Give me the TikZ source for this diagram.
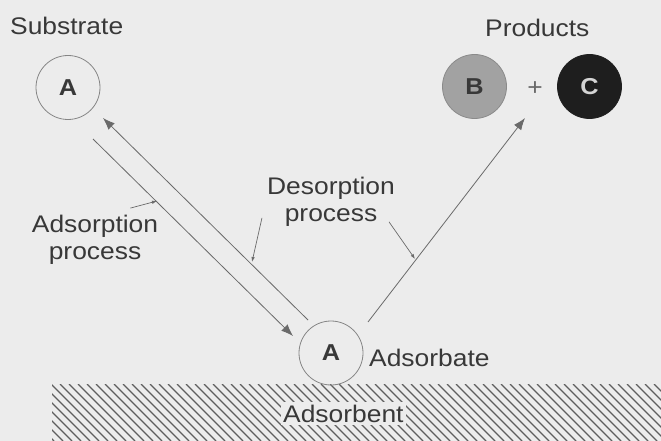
\documentclass[tikz,border=0pt]{standalone}
\usepackage{fontspec}
\setmainfont{Liberation Sans}[FakeStretch=1.1]
\usetikzlibrary{arrows.meta}
\definecolor{bggray}{HTML}{ECECEC}
\definecolor{txtgray}{HTML}{383838}
\definecolor{linegray}{HTML}{6A6A6A}
\definecolor{circgray}{HTML}{858585}
\definecolor{hatchgray}{HTML}{5E5E5E}
\definecolor{bfill}{HTML}{A2A2A2}
\definecolor{cfill}{HTML}{1E1E1E}
\tikzset{
	lbl/.style={text=txtgray,font=\fontsize{24}{27}\selectfont,inner sep=0pt},
	mol/.style={draw=circgray,circle,line width=0.8pt,minimum size=64pt,inner sep=0pt,text=txtgray,font=\fontsize{23}{23}\selectfont\bfseries},
	flow/.style={draw=linegray,line width=0.8pt,-{Latex[length=12pt,width=9pt]}},
	pointer/.style={draw=linegray,line width=0.7pt,-{Latex[length=5pt,width=3.5pt]}},
}
\begin{document}
\begin{tikzpicture}[x=1pt,y=-1pt]
			\useasboundingbox [fill=bggray] (0,0) rectangle (661,441);
			
			% adsorbent surface
			\begin{scope}
				\clip (52,384) rectangle (661,441);
				\foreach \x in {0,9,...,730}
					\draw [hatchgray,line width=1.4pt] (\x-57,384) -- (\x,441);
			\end{scope}
			
			\node [mol] (subA) at (68,87.5) {A};
			\node [mol,draw=bfill!85!black,fill=bfill] (prodB) at (474.5,86.5) {B};
			\node [mol,draw=cfill,fill=cfill,text=bggray!90!black] (prodC) at (589.5,86.5) {C};
			\node [lbl,text=linegray] (plus) at (535,89) {+};
			\node [mol] (adsA) at (331,353) {A};
			
			\node [lbl,anchor=base west] (subLbl) at (10,35) {Substrate};
			\node [lbl,anchor=base west] (prodLbl) at (485,37) {Products};
			\node [lbl,anchor=base west] (adsLbl) at (369,366) {Adsorbate};
			\node [lbl,anchor=base west,fill=bggray,inner sep=2.5pt] (surfLbl) at (280.5,422) {Adsorbent};
			\node [lbl,align=center] (adsProc) at (95,240) {Adsorption\\process};
			\node [lbl,align=center] (desProc) at (331,202) {Desorption\\process};
			
			\coordinate (adsFrom) at (93,139);
			\coordinate (adsTo) at (293,336);
			\coordinate (desFrom) at (308,320);
			\coordinate (desTo) at (103,118);
			\coordinate (prodFrom) at (368,322);
			\coordinate (prodTo) at (525,118);
			\coordinate (adsPtr) at (157,201);
			\coordinate (desPtrL) at (252,262);
			\coordinate (desPtrR) at (415,259);
			
			\draw [flow] (adsFrom) -- (adsTo);
			\draw [flow] (desFrom) -- (desTo);
			\draw [flow] (prodFrom) -- (prodTo);
			\draw [pointer] (adsProc.north east) ++(-28,-7) -- (adsPtr);
			\draw [pointer] (desProc.south west) ++(-5,-9) -- (desPtrL);
			\draw [pointer] (desProc.south east) ++(-6,-5) -- (desPtrR);
\end{tikzpicture}
\end{document}
